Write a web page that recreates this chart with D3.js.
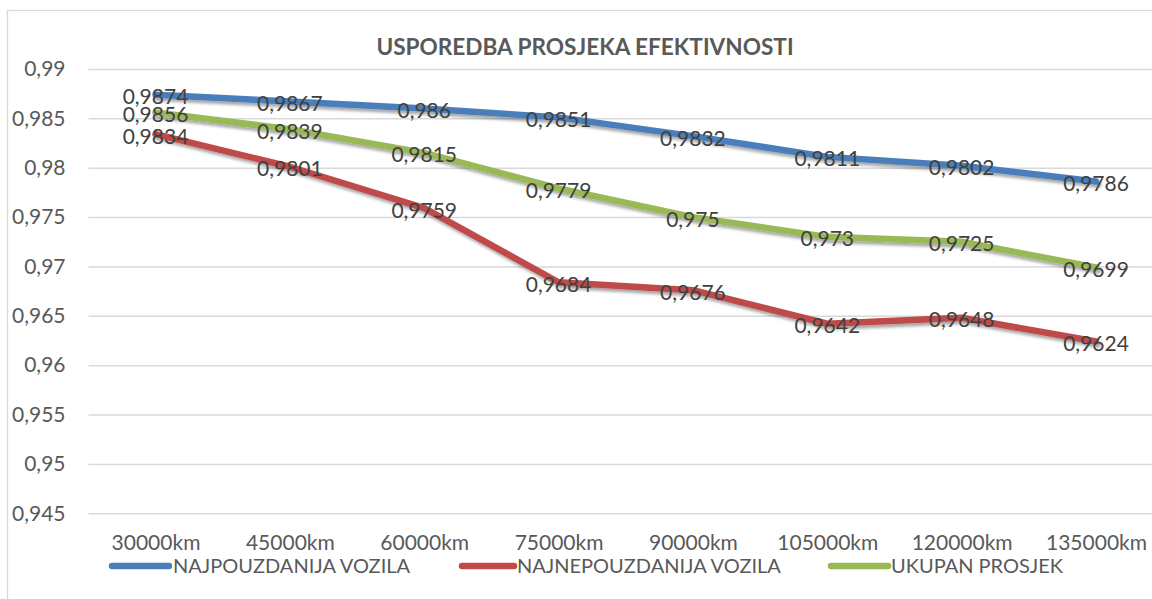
<!DOCTYPE html>
<html>
<head>
<meta charset="utf-8">
<script src="https://cdn.jsdelivr.net/npm/d3@7"></script>
<style>
  html, body { margin: 0; padding: 0; background: #fff; overflow: hidden; }
  svg { display: block; font-family: Lato, "Open Sans", sans-serif; }
</style>
</head>
<body>
<svg id="chart" width="1152" height="599"></svg>
<script>
const title = "USPOREDBA PROSJEKA EFEKTIVNOSTI";
const categories = ["30000km", "45000km", "60000km", "75000km", "90000km", "105000km", "120000km", "135000km"];
const seriesNames = ["NAJPOUZDANIJA VOZILA", "NAJNEPOUZDANIJA VOZILA", "UKUPAN PROSJEK"];
const najpouzdanija = [0.9874, 0.9867, 0.986, 0.9851, 0.9832, 0.9811, 0.9802, 0.9786];
const najnepouzdanija = [0.9834, 0.9801, 0.9759, 0.9684, 0.9676, 0.9642, 0.9648, 0.9624];
const ukupanProsjek = [0.9856, 0.9839, 0.9815, 0.9779, 0.975, 0.973, 0.9725, 0.9699];
const yTicks = [0.945, 0.95, 0.955, 0.96, 0.965, 0.97, 0.975, 0.98, 0.985, 0.99];
const colors = ["#4a7ebb", "#be4b48", "#98b954"];

const series = [
  { name: seriesNames[0], values: najpouzdanija, color: colors[0] },
  { name: seriesNames[1], values: najnepouzdanija, color: colors[1] },
  { name: seriesNames[2], values: ukupanProsjek, color: colors[2] }
];

const svg = d3.select("#chart");
const locale = d3.formatLocale({ decimal: ",", thousands: ".", grouping: [3], currency: ["", ""] });
const fmt = locale.format("~g");

const plotLeft = 88.5, plotRight = 1164;
const x = d3.scalePoint().domain(categories).range([155.5, 1096]);
const y = d3.scaleLinear().domain([0.945, 0.99]).range([513.3, 69]);

// defs: shadow
const defs = svg.append("defs");
const f = defs.append("filter").attr("id", "shadow").attr("x", "-10%").attr("y", "-50%").attr("width", "120%").attr("height", "200%");
f.append("feDropShadow").attr("dx", 2).attr("dy", 3).attr("stdDeviation", 1.8)
  .attr("flood-color", "#000").attr("flood-opacity", 0.35);

// chart border (extends beyond viewport on right/bottom)
svg.append("rect").attr("x", 7.5).attr("y", 10.5).attr("width", 1200).attr("height", 700)
  .attr("fill", "none").attr("stroke", "#d9d9d9").attr("stroke-width", 1.3);

// title
svg.append("text").attr("x", 585).attr("y", 55).attr("text-anchor", "middle")
  .attr("font-weight", "bold").attr("font-size", 22.6).attr("fill", "#595959").text(title);

// y axis with gridlines
const yAxis = d3.axisLeft(y).tickValues(yTicks).tickFormat(fmt)
  .tickSize(-(plotRight - plotLeft)).tickPadding(23);
const gy = svg.append("g").attr("transform", `translate(${plotLeft},0)`).call(yAxis);
gy.select(".domain").remove();
gy.selectAll(".tick line").attr("stroke", "#d9d9d9").attr("stroke-width", 1.5);
gy.selectAll(".tick text").attr("fill", "#595959").attr("font-size", 21)
  .attr("font-family", "Lato, 'Open Sans', sans-serif");

// x axis labels
const xAxis = d3.axisBottom(x).tickSize(0).tickPadding(22);
const gx = svg.append("g").attr("transform", `translate(0,${y(0.945)})`).call(xAxis);
gx.select(".domain").remove();
gx.selectAll(".tick text").attr("fill", "#595959").attr("font-size", 21)
  .attr("font-family", "Lato, 'Open Sans', sans-serif");

// lines
const line = d3.line().x((d, i) => x(categories[i])).y(d => y(d));
svg.append("g").selectAll("path").data(series).join("path")
  .attr("d", d => line(d.values))
  .attr("fill", "none").attr("stroke", d => d.color).attr("stroke-width", 6.5)
  .attr("stroke-linejoin", "round").attr("stroke-linecap", "round")
  .attr("filter", "url(#shadow)");

// data labels
const lg = svg.append("g");
series.forEach(s => {
  lg.selectAll(null).data(s.values).join("text")
    .attr("x", (d, i) => x(categories[i]))
    .attr("y", d => y(d) + 1)
    .attr("text-anchor", "middle").attr("dominant-baseline", "central")
    .attr("font-size", 21).attr("fill", "#404040")
    .text(d => fmt(d));
});

// legend
const legendItems = [
  { x0: 112, x1: 169, tx: 173 },
  { x0: 462, x1: 514, tx: 517 },
  { x0: 831, x1: 888, tx: 891 }
];
const leg = svg.append("g");
series.forEach((s, i) => {
  const it = legendItems[i];
  leg.append("line").attr("x1", it.x0).attr("x2", it.x1).attr("y1", 566).attr("y2", 566)
    .attr("stroke", s.color).attr("stroke-width", 6.5).attr("stroke-linecap", "round");
  leg.append("text").attr("x", it.tx).attr("y", 573).attr("font-size", 20)
    .attr("fill", "#595959").text(s.name);
});
</script>
</body>
</html>
